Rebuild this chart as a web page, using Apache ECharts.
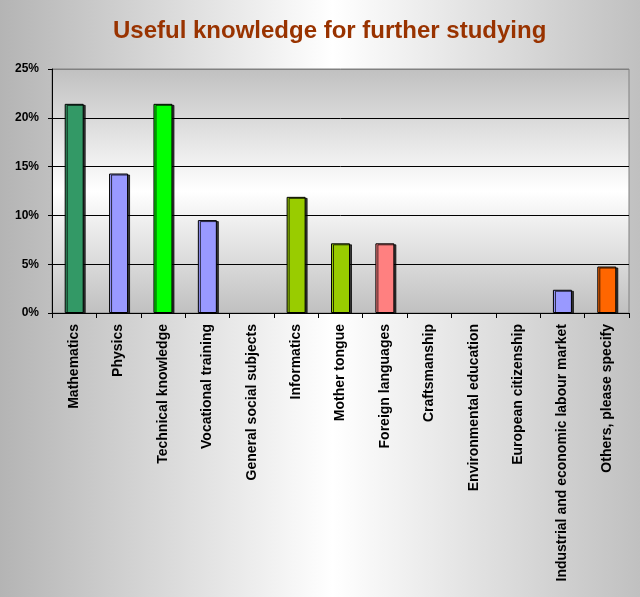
<!DOCTYPE html>
<html>
<head>
<meta charset="utf-8">
<script src="https://cdn.jsdelivr.net/npm/echarts@6/dist/echarts.min.js"></script>
<style>
html,body{margin:0;padding:0;}
#chart{width:640px;height:597px;background:linear-gradient(to right,#b4b4b4 0%,#ffffff 52%,#c0c0c0 100%);}
</style>
</head>
<body>
<div id="chart"></div>
<script>
var categories = ["Mathematics","Physics","Technical knowledge","Vocational training","General social subjects","Informatics","Mother tongue","Foreign languages","Craftsmanship","Environmental education","European citizenship","Industrial and economic labour market","Others, please specify"];
var values = [21.43, 14.29, 21.43, 9.52, 0, 11.90, 7.14, 7.14, 0, 0, 0, 2.38, 4.76];
var barColors = ["#339966","#9999FF","#00FF00","#9999FF","#9999FF","#99CC00","#99CC00","#FF8080","#9999FF","#9999FF","#9999FF","#9999FF","#FF6600"];
var yTicks = [0,5,10,15,20,25];

var chart = echarts.init(document.getElementById('chart'), null, {renderer:'canvas'});
chart.setOption({
  backgroundColor: 'transparent',
  animation: false,
  title: {
    text: 'Useful knowledge for further studying',
    left: 108, top: 14,
    textStyle: {fontFamily:'Liberation Sans, Arial', fontSize:24, fontWeight:'bold', color:'#993300'}
  },
  grid: {
    left: 52, right: 11, top: 69, bottom: 284,
    show: true,
    borderColor: '#808080', borderWidth: 1,
    backgroundColor: {type:'linear', x:0, y:0, x2:0, y2:1, colorStops:[
      {offset:0, color:'#c0c0c0'},{offset:0.5, color:'#ffffff'},{offset:1, color:'#c0c0c0'}]}
  },
  xAxis: {
    type: 'category',
    data: categories,
    axisLine: {lineStyle:{color:'#000', width:1}},
    axisTick: {show:true, length:5, lineStyle:{color:'#000'}},
    axisLabel: {rotate:90, interval:0, margin:11, color:'#000', fontFamily:'Liberation Sans, Arial', fontSize:14, fontWeight:'bold'}
  },
  yAxis: {
    type: 'value',
    min: 0, max: 25, interval: 5,
    axisLine: {show:true, lineStyle:{color:'#000', width:1}},
    axisTick: {show:true, length:4, lineStyle:{color:'#000'}},
    axisLabel: {formatter: function(v){return v + '%';}, margin:13, color:'#000', fontFamily:'Liberation Sans, Arial', fontSize:12, fontWeight:'bold'},
    splitLine: {show:true, lineStyle:{color:['#000','#000','#000','#000','#000','#808080'], width:1}}
  },
  series: [{
    type: 'bar',
    data: values.map(function(v,i){
      var st = {color:barColors[i]};
      if (v === 0) { st.borderWidth = 0; st.shadowColor = 'rgba(0,0,0,0)'; st.opacity = 0; }
      return {value:v, itemStyle:st};
    }),
    barWidth: 19,
    itemStyle: {borderColor:'#000', borderWidth:1, shadowColor:'rgba(0,0,0,0.75)', shadowOffsetX:2, shadowOffsetY:1, shadowBlur:0}
  }]
});
</script>
</body>
</html>
